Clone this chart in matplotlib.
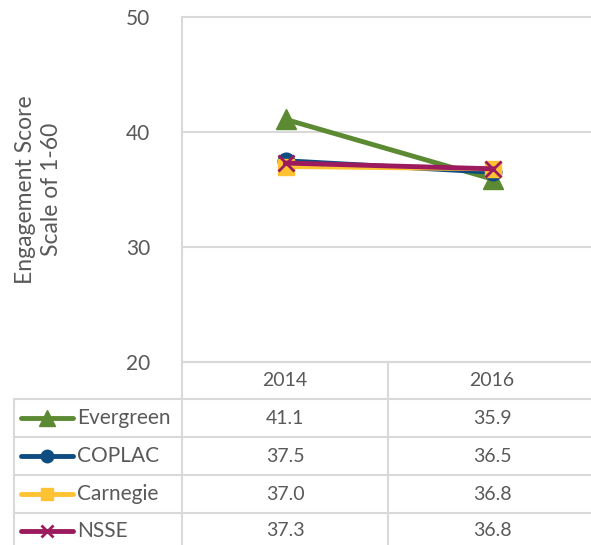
import matplotlib
matplotlib.use("Agg")
import matplotlib.pyplot as plt
from matplotlib.lines import Line2D

plt.rcParams['font.family'] = ['Lato', 'DejaVu Sans']

years = ["2014", "2016"]
series = ["Evergreen", "COPLAC", "Carnegie", "NSSE"]
evergreen = [41.1, 35.9]
coplac = [37.5, 36.5]
carnegie = [37.0, 36.8]
nsse = [37.3, 36.8]
values = [evergreen, coplac, carnegie, nsse]

colors = ["#5B8A32", "#0F4C81", "#FFC233", "#9B1B5E"]
markers = ["^", "o", "s", "x"]
msizes = [15, 12, 12, 12]

W, H = 591, 545
grid_c = "#D9D9D9"
text_c = "#595959"

fig = plt.figure(figsize=(W / 100, H / 100), dpi=100)

def fx(px):
    return px / W

def fy(py):
    return 1 - py / H

# plot area in pixels
left, right, top, bottom = 182, 596, 17, 362
ax = fig.add_axes([fx(left), fy(bottom), fx(right - left), (bottom - top) / H])
ax.set_xlim(-0.5, 1.5)
ax.set_ylim(20, 50)
ax.set_yticks([20, 30, 40, 50])
ax.set_xticks([])
ax.tick_params(axis="y", length=0, pad=23, labelsize=15, labelcolor=text_c)
for s in ["top", "right", "bottom"]:
    ax.spines[s].set_visible(False)
ax.spines["left"].set_color(grid_c)
ax.spines["left"].set_linewidth(1.5)
ax.grid(axis="y", color=grid_c, linewidth=1.5)
ax.set_axisbelow(True)
for gl in ax.get_ygridlines():
    gl.set_clip_on(False)

for vals, c, m, ms in zip(values, colors, markers, msizes):
    ax.plot(range(len(years)), vals, color=c, linewidth=3.5, marker=m,
            markersize=ms, markeredgewidth=2 if m == "x" else 1, zorder=3)

ax.set_ylabel("Engagement Score\nScale of 1-60", fontsize=16.5, color=text_c,
              linespacing=1.3)
ax.yaxis.set_label_coords((62 - left) / (right - left), 0.5)

# data table under the plot
def hline(y, x0, x1):
    fig.add_artist(Line2D([fx(x0), fx(x1)], [fy(y), fy(y)], color=grid_c,
                          linewidth=1.5, transform=fig.transFigure))

def vline(x, y0, y1):
    fig.add_artist(Line2D([fx(x), fx(x)], [fy(y0), fy(y1)], color=grid_c,
                          linewidth=1.5, transform=fig.transFigure))

row_y = [362, 399, 437, 475, 513, 560]
col_x = [285, 492]
hline(row_y[0], left, W)
for y in row_y[1:5]:
    hline(y, 14, W)
vline(14, row_y[1], H + 5)
vline(left, row_y[0], H + 5)
vline(388, row_y[0], H + 5)

for x, yr in zip(col_x, years):
    fig.text(fx(x), fy((row_y[0] + row_y[1]) / 2), yr, ha="center",
             va="center", fontsize=14, color=text_c)

for i, (name, vals, c, m, ms) in enumerate(zip(series, values, colors, markers, msizes)):
    yc = (row_y[i + 1] + row_y[i + 2]) / 2
    if i == 3:
        yc = (row_y[4] + H) / 2 + 2
    fig.add_artist(Line2D([fx(21), fx(73)], [fy(yc), fy(yc)], color=c,
                          linewidth=3.5, solid_capstyle="round",
                          transform=fig.transFigure))
    fig.add_artist(Line2D([fx(47)], [fy(yc)], color=c, marker=m,
                          markersize=ms * 0.75, markeredgewidth=2 if m == "x" else 1,
                          transform=fig.transFigure))
    fig.text(fx(77), fy(yc), name, ha="left", va="center", fontsize=15,
             color=text_c)
    for x, v in zip(col_x, vals):
        fig.text(fx(x), fy(yc), f"{v:.1f}", ha="center", va="center",
                 fontsize=14, color=text_c)

fig.savefig("out.png", dpi=100)
